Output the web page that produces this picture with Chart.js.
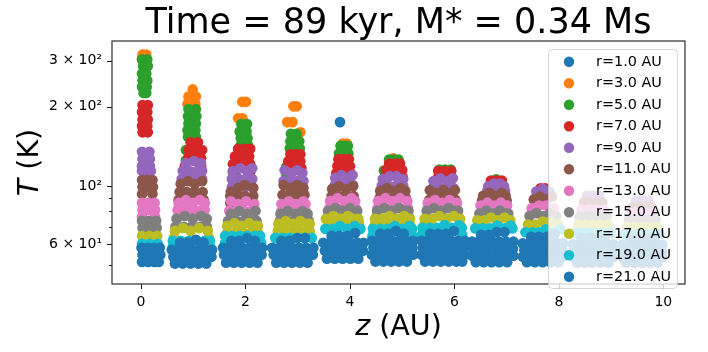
<!DOCTYPE html>
<html>
<head>
<meta charset="utf-8">
<script src="https://cdn.jsdelivr.net/npm/chart.js@4/dist/chart.umd.min.js"></script>
<style>
  html, body { margin: 0; padding: 0; background: #fff; }
  #wrap { width: 708px; height: 352px; }
</style>
</head>
<body>
<div id="wrap"><canvas id="c" width="708" height="352"></canvas></div>
<script>
// Radii (AU) of the sampled rings and their marker colours
const radii = [1, 3, 5, 7, 9, 11, 13, 15, 17, 19, 21];
const colors = ['#1f77b4', '#ff7f0e', '#2ca02c', '#d62728', '#9467bd', '#8c564b',
                '#e377c2', '#7f7f7f', '#bcbd22', '#17becf', '#1f77b4'];

// Axis ticks
const xTicks = [0, 2, 4, 6, 8, 10];
const yTicks = [50, 60, 70, 80, 90, 100, 200, 300];
const yTickText = { 300: '3 \u00d7 10\u00b2', 200: '2 \u00d7 10\u00b2', 100: '10\u00b2', 60: '6 \u00d7 10\u00b9' };

// Temperature samples per ring. Each row: [T (K), z (AU) of every sample at that T]
const tempR1 = [[175, 3.81]];

const tempR3 = [
  [316, 0.03, 0.10], [305, 0.02],
  [233, 0.99], [219, 0.91, 1.05], [205, 0.89, 1.04],
  [209, 1.94, 2.01], [181, 1.86, 1.94],
  [201, 2.92, 2.98], [175, 2.80, 2.90], [160, 3.05],
  [145, 3.86, 3.94],
  [127.5, 4.83]
];

const tempR5 = [
  [303, 0.02, 0.12], [286, 0.04, 0.13], [268, 0.02, 0.10], [252, 0.03, 0.12], [238, 0.02, 0.11], [226, 0.05, 0.10],
  [196, 0.91, 1.05], [184, 0.90, 1.06], [173, 0.91, 1.05], [163, 0.89, 1.04], [154, 0.90, 1.05], [137, 0.86], [125, 0.86],
  [172, 1.92, 2.03], [161, 1.89, 2.02], [152, 1.91, 2.04], [143, 1.91, 2.05], [120, 1.82], [112, 1.80],
  [158, 2.87, 2.98], [148, 2.86, 2.97, 3.03], [139, 2.85, 2.96, 3.04], [118, 2.78], [111, 2.78],
  [142, 3.82, 3.90, 3.96], [133, 3.79, 3.97],
  [126, 4.75, 4.84, 4.93], [114.5, 4.65],
  [115.5, 5.71, 5.82, 5.93],
  [106, 6.80]
];

const tempR7 = [
  [203, 0.03, 0.13], [191, 0.02, 0.12], [179, 0.03, 0.13], [169, 0.02, 0.12], [160, 0.03, 0.13],
  [146.6, 0.95, 1.09], [137, 0.91, 1.05, 1.17], [127.6, 0.90, 1.03, 1.15], [119, 0.84, 1.15],
  [138.5, 1.86, 1.99, 2.09], [129.6, 1.80, 1.94, 2.07], [121.2, 1.76, 1.92, 2.09], [113, 1.76, 2.09],
  [132, 2.86, 2.97, 3.05], [124.3, 2.82, 2.93, 3.05], [117, 2.80, 2.94, 3.07],
  [126.5, 3.78, 3.88, 3.98], [119, 3.76, 3.88, 4.00], [112, 3.74, 3.86, 3.97, 4.01],
  [121.7, 4.75, 4.87, 4.96], [115, 4.69, 4.81, 4.93, 5.00], [108.2, 4.67, 5.01],
  [114, 5.69, 5.81, 5.94], [107.2, 5.68, 5.80, 5.92, 5.96],
  [104.8, 6.70, 6.81, 6.91],
  [98, 7.65, 7.74]
];

const tempR9 = [
  [135, 0.02, 0.16], [127, 0.03, 0.17], [119, 0.02, 0.10, 0.17], [114, 0.02, 0.11, 0.19],
  [124.5, 1.01], [122.2, 0.86, 1.15], [114, 0.80, 0.93, 1.07, 1.17], [106.3, 0.78, 0.90, 1.02, 1.13, 1.17],
  [116.8, 1.90, 2.13], [114, 1.76, 2.03], [106.3, 1.74, 1.88, 2.01, 2.13], [99.1, 1.74, 1.87, 2.00, 2.13],
  [114.8, 2.75, 2.99], [112, 2.88, 3.09], [104.5, 2.73, 2.86, 2.99, 3.11],
  [110, 3.84, 4.05], [107.3, 3.72, 3.95], [100.9, 3.71, 3.83, 3.95, 4.06],
  [109, 4.76, 4.89], [106.3, 4.63, 5.02], [100.1, 4.61, 4.74, 4.88, 5.02],
  [107, 5.73, 5.97], [104.5, 5.60, 5.86], [98.3, 5.59, 5.72, 5.85, 5.98],
  [102.2, 6.76, 6.87], [99.8, 6.65, 6.95], [96, 6.63, 6.75, 6.87, 6.97],
  [97.6, 7.69], [95.3, 7.57, 7.81],
  [91.8, 8.54, 8.66, 8.77],
  [87.9, 9.48, 9.60, 9.71]
];

const tempR11 = [
  [105.4, 0.02, 0.12, 0.22], [99.1, 0.03, 0.13, 0.23], [93.2, 0.02, 0.22],
  [104.3, 0.90, 1.17], [101.8, 0.76, 1.03], [94.9, 0.74, 0.88, 1.03, 1.18], [88.5, 0.72, 0.84, 0.96, 1.08, 1.20],
  [100.8, 1.99], [98.3, 1.86, 2.15], [95, 1.72], [91.6, 1.71, 1.84, 1.99, 2.15], [86.2, 1.71, 2.15],
  [100.8, 2.73, 2.99], [98.3, 2.86, 3.11], [92.5, 2.71, 2.85, 2.99, 3.13],
  [99.8, 3.79, 4.06], [97.4, 3.66, 3.93], [91.6, 3.65, 3.79, 3.93, 4.07],
  [98.2, 4.71, 4.97], [95.8, 4.58, 4.84, 5.06], [90.1, 4.57, 4.70, 4.83, 4.96, 5.07],
  [96.4, 5.53, 5.79, 6.01], [94, 5.66, 5.92], [88.5, 5.52, 5.65, 5.78, 5.91, 6.02],
  [94.1, 6.67, 6.91], [91.8, 6.55, 6.79, 6.98], [88, 6.53, 6.66, 6.79, 6.92, 7.00],
  [91.1, 7.64, 7.87], [88.9, 7.52, 7.76],
  [86.6, 8.48, 8.60, 8.72, 8.83],
  [83.1, 9.42, 9.54, 9.66, 9.77]
];

const tempR13 = [
  [86.2, 0.02, 0.14, 0.26], [81.1, 0.03, 0.15, 0.27], [76.3, 0.02, 0.27],
  [88.4, 0.86, 1.13], [86.2, 0.72, 0.99, 1.22], [81.1, 0.70, 0.86, 1.01, 1.17, 1.22], [75.6, 0.70, 1.22],
  [87.5, 1.72, 2.01], [85.4, 1.86, 2.17], [80.4, 1.69, 1.82, 1.97, 2.11, 2.19],
  [87.5, 2.83, 3.11], [85.4, 2.69, 2.97, 3.15], [80.4, 2.69, 2.83, 2.97, 3.11, 3.15],
  [89.9, 3.76, 4.03], [87.7, 3.62, 3.90, 4.10], [82.5, 3.61, 3.75, 3.89, 4.03, 4.11],
  [89.9, 4.68, 4.96], [87.7, 4.54, 4.82, 5.10], [82.5, 4.53, 4.67, 4.81, 4.95, 5.11],
  [88.4, 5.63, 5.91], [86.2, 5.49, 5.77, 6.05], [81.1, 5.48, 6.06],
  [86.4, 6.63, 6.89], [84.3, 6.50, 6.76, 7.01],
  [84.3, 7.62, 7.76], [82.2, 7.48, 7.90],
  [81.4, 8.44, 8.58, 8.72, 8.86],
  [79.1, 9.38, 9.52, 9.66, 9.80]
];

const tempR15 = [
  [73.7, 0.02, 0.15, 0.29], [69.3, 0.03, 0.16, 0.30],
  [76.9, 0.84, 1.15], [75.0, 0.68, 0.99, 1.26], [69.9, 0.66, 0.82, 0.97, 1.13, 1.26],
  [80.3, 1.88, 2.19], [78.3, 1.72, 2.03], [73.7, 1.67, 1.82, 1.97, 2.11, 2.21],
  [80.3, 2.81, 3.09], [78.3, 2.67, 2.95, 3.19], [73.7, 2.66, 2.80, 2.94, 3.08, 3.21],
  [82.4, 3.72, 4.00], [80.4, 3.58, 3.86, 4.14],
  [82.4, 4.66, 4.94], [80.4, 4.52, 4.80, 5.07, 5.12], [76.3, 4.51, 5.13],
  [82.4, 5.61, 5.89], [80.4, 5.47, 5.75, 6.03, 6.07], [75.6, 5.46, 6.08],
  [80.6, 6.61, 6.87], [78.6, 6.48, 6.74, 7.00, 7.03],
  [78.8, 7.57, 7.83], [76.9, 7.44, 7.70, 7.95],
  [76.6, 8.40, 8.53, 8.66, 8.79, 8.91],
  [74.6, 9.34, 9.47, 9.60, 9.73, 9.85]
];

const tempR17 = [
  [64.6, 0.02, 0.16, 0.31],
  [69.2, 0.80, 1.11], [67.5, 0.65, 0.95, 1.28], [63.6, 0.63, 1.30],
  [72.3, 1.79, 2.07], [70.5, 1.65, 1.93, 2.20, 2.24], [66.4, 1.65, 1.80, 1.95, 2.10, 2.24],
  [73.6, 2.77, 3.05], [71.8, 2.63, 2.91, 3.19, 3.23], [67.5, 2.62, 2.76, 2.90, 3.04, 3.18, 3.23],
  [76.9, 3.68, 3.96], [75.0, 3.54, 3.82, 4.10, 4.16], [72.5, 3.60, 3.75, 3.90, 4.05, 4.17],
  [76.9, 4.76, 5.04], [75.0, 4.48, 4.62, 4.90, 5.15], [70.5, 4.47, 4.61, 4.75, 4.89, 5.03, 5.16],
  [76.9, 5.71, 5.99], [75.0, 5.43, 5.57, 5.85, 6.11], [70.5, 5.42, 6.12],
  [75.9, 6.70, 6.96], [74.0, 6.44, 6.57, 6.83, 7.07],
  [73.2, 7.69, 7.83], [71.4, 7.41, 7.55, 7.98],
  [71.1, 8.37, 8.51, 8.65, 8.79, 8.94],
  [69.9, 9.31, 9.45, 9.59, 9.73, 9.88]
];

const tempR19 = [
  [60.3, 0.02, 0.17, 0.32],
  [61.9, 0.61, 0.76, 0.92, 1.07, 1.22, 1.32], [58.9, 0.61, 1.32],
  [64.6, 1.61, 1.75, 1.89, 2.03, 2.17, 2.28], [60.8, 1.61, 2.30],
  [63.5, 2.57, 2.71, 2.85, 2.99, 3.13, 3.27],
  [70.4, 3.81, 4.09], [68.7, 3.53, 3.67, 3.95, 4.20],
  [70.4, 4.86, 5.14], [68.7, 4.44, 4.58, 4.72, 5.00, 5.19], [64.6, 4.43, 5.20],
  [71.0, 5.81, 6.09], [69.3, 5.39, 5.53, 5.67, 5.95, 6.14], [65.2, 5.38, 6.15],
  [70.7, 6.82, 7.08], [69.0, 6.40, 6.54, 6.68, 6.96, 7.11],
  [68.4, 7.75, 8.03], [66.7, 7.36, 7.49, 7.62, 7.88],
  [66.4, 8.32, 8.45, 8.58, 8.71, 8.84, 8.99],
  [65.5, 9.26, 9.39, 9.52, 9.65, 9.78, 9.93]
];

const tempR21 = [
  [58.2, 0.01, 0.13, 0.25, 0.36], [54.8, 0.03, 0.15, 0.27, 0.37], [51.4, 0.02, 0.14, 0.26, 0.34],
  [62.4, 1.05], [60.9, 0.75, 0.90, 1.20], [57.2, 0.59, 0.72, 0.85, 0.98, 1.11, 1.24, 1.36],
  [53.8, 0.62, 0.75, 0.88, 1.01, 1.14, 1.27, 1.35], [50.7, 0.65, 0.80, 0.95, 1.10, 1.25],
  [63.4, 2.03], [61.9, 1.73, 1.88, 2.18], [58.2, 1.57, 1.69, 1.82, 1.94, 2.07, 2.19, 2.32],
  [54.8, 1.59, 1.72, 1.85, 1.98, 2.11, 2.24, 2.31], [51.1, 1.63, 1.78, 1.93, 2.08, 2.23],
  [63.4, 2.99, 3.14], [61.9, 2.69, 2.84], [58.2, 2.51, 2.64, 2.77, 2.90, 3.03, 3.16, 3.30],
  [54.8, 2.54, 2.67, 2.80, 2.93, 3.06, 3.19, 3.29], [51.1, 2.59, 2.74, 2.89, 3.04, 3.19],
  [66.2, 4.10], [64.6, 3.65, 3.80, 3.95], [60.8, 3.49, 3.62, 3.75, 3.88, 4.01, 4.14, 4.26],
  [56.7, 3.52, 3.65, 3.78, 3.91, 4.04, 4.17, 4.25], [52.9, 3.56, 3.71, 3.86, 4.01, 4.16],
  [67.4, 4.88], [65.8, 4.58, 4.73, 5.03], [61.9, 4.42, 4.55, 4.68, 4.81, 4.94, 5.07, 5.21],
  [58.2, 4.45, 4.58, 4.71, 4.84, 4.97, 5.10, 5.20], [54.8, 4.42, 4.55, 4.68, 4.81, 4.94, 5.07, 5.21],
  [51.6, 4.49, 4.64, 4.79, 4.94, 5.09],
  [67.4, 5.99], [65.8, 5.54, 5.69, 5.84], [61.9, 5.37, 5.51, 5.65, 5.79, 5.93, 6.07, 6.20],
  [58.2, 5.40, 5.54, 5.68, 5.82, 5.96, 6.10, 6.19], [54.8, 5.37, 5.51, 5.65, 5.79, 5.93, 6.07, 6.20],
  [51.6, 5.44, 5.59, 5.74, 5.89, 6.04, 6.15],
  [66.8, 6.81, 6.96], [65.2, 6.51, 6.66], [61.4, 6.34, 6.47, 6.60, 6.73, 6.86, 6.99, 7.13],
  [57.7, 6.37, 6.50, 6.63, 6.76, 6.89, 7.02, 7.12], [54.3, 6.34, 6.47, 6.60, 6.73, 6.86, 6.99, 7.13],
  [51.3, 6.41, 6.56, 6.71, 6.86, 7.01],
  [65.7, 7.92], [64.1, 7.47, 7.62, 7.77], [60.5, 7.31, 7.44, 7.57, 7.70, 7.83, 7.96, 8.08],
  [57.0, 7.34, 7.47, 7.60, 7.73, 7.86, 7.99, 8.07], [53.8, 7.31, 7.44, 7.57, 7.70, 7.83, 7.96, 8.08],
  [51.3, 7.39, 7.54, 7.69, 7.84, 7.99],
  [63.5, 8.43, 8.58, 8.73, 8.88], [60.0, 8.27, 8.40, 8.53, 8.66, 8.79, 8.92, 9.04],
  [56.7, 8.30, 8.43, 8.56, 8.69, 8.82, 8.95, 9.03], [53.6, 8.27, 8.40, 8.53, 8.66, 8.79, 8.92, 9.04],
  [51.1, 8.35, 8.50, 8.65, 8.80, 8.95],
  [63.0, 9.37, 9.52, 9.67, 9.82], [59.8, 9.21, 9.34, 9.47, 9.60, 9.73, 9.86, 9.98],
  [56.4, 9.24, 9.37, 9.50, 9.63, 9.76, 9.89, 9.97], [53.6, 9.21, 9.34, 9.47, 9.60, 9.73, 9.86, 9.98],
  [51.1, 9.29, 9.44, 9.59, 9.74, 9.89]
];

const series = [tempR1, tempR3, tempR5, tempR7, tempR9, tempR11, tempR13, tempR15, tempR17, tempR19, tempR21];

const FONT = '"DejaVu Sans", "Liberation Sans", sans-serif';
const POINT_R = 5.35;

const datasets = series.map((rows, i) => ({
  label: 'r=' + radii[i].toFixed(1) + ' AU',
  data: rows.flatMap(([T, ...zs]) => zs.map(z => ({ x: z, y: T }))),
  backgroundColor: colors[i],
  borderColor: colors[i],
  pointRadius: POINT_R,
  pointHoverRadius: POINT_R,
  pointBorderWidth: 0,
  order: -i            // outer rings are drawn over inner ones
}));

function drawMixed(ctx, parts, cx, baseline) {
  let w = 0;
  parts.forEach(([t, f]) => { ctx.font = f; w += ctx.measureText(t).width; });
  let xx = cx - w / 2;
  ctx.textAlign = 'left';
  ctx.textBaseline = 'alphabetic';
  parts.forEach(([t, f]) => { ctx.font = f; ctx.fillText(t, xx, baseline); xx += ctx.measureText(t).width; });
}

const decor = {
  id: 'decor',
  afterDatasetsDraw(chart) {
    const { ctx, chartArea: a, scales: { x, y } } = chart;
    ctx.save();

    // axes frame
    ctx.strokeStyle = '#1a1a1a';
    ctx.lineWidth = 1.1;
    ctx.strokeRect(a.left, a.top, a.right - a.left, a.bottom - a.top);

    // tick marks
    ctx.beginPath();
    xTicks.forEach(v => {
      const px = Math.round(x.getPixelForValue(v)) + 0.5;
      ctx.moveTo(px, a.bottom); ctx.lineTo(px, a.bottom + 5);
    });
    yTicks.forEach(v => {
      const py = Math.round(y.getPixelForValue(v)) + 0.5;
      const len = yTickText[v] ? 5 : 3;
      ctx.moveTo(a.left - len, py); ctx.lineTo(a.left, py);
    });
    ctx.lineWidth = 1;
    ctx.stroke();

    // title
    ctx.fillStyle = '#000';
    ctx.font = '35px ' + FONT;
    ctx.textAlign = 'center';
    ctx.textBaseline = 'alphabetic';
    ctx.fillText('Time = 89 kyr, M* = 0.34 Ms', (a.left + a.right) / 2, 33);

    // axis titles
    drawMixed(ctx, [['z', 'italic 28.5px ' + FONT], [' (AU)', '28.5px ' + FONT]], (a.left + a.right) / 2, 335);
    ctx.save();
    ctx.translate(38, (a.top + a.bottom) / 2);
    ctx.rotate(-Math.PI / 2);
    drawMixed(ctx, [['T', 'italic 28.5px ' + FONT], [' (K)', '28.5px ' + FONT]], 0, 0);
    ctx.restore();

    // legend
    const lx = 548.5, ly = 49.5, lw = 129, lh = 239;
    ctx.beginPath();
    ctx.roundRect(lx, ly, lw, lh, 4);
    ctx.fillStyle = 'rgba(255,255,255,0.8)';
    ctx.fill();
    ctx.strokeStyle = 'rgba(204,204,204,0.8)';
    ctx.lineWidth = 1;
    ctx.stroke();
    ctx.font = '14.4px ' + FONT;
    ctx.textAlign = 'left';
    ctx.textBaseline = 'middle';
    chart.data.datasets.forEach((ds, i) => {
      const cy = 61.7 + i * 21.5;
      ctx.beginPath();
      ctx.arc(569, cy, 5.2, 0, Math.PI * 2);
      ctx.fillStyle = ds.backgroundColor;
      ctx.fill();
      ctx.fillStyle = '#000';
      ctx.fillText(ds.label, 596, cy + 0.5);
    });

    ctx.restore();
  }
};

new Chart(document.getElementById('c'), {
  type: 'scatter',
  data: { datasets },
  options: {
    responsive: false,
    animation: false,
    devicePixelRatio: 1,
    events: [],
    layout: { padding: { top: 41, right: 23, left: 0, bottom: 0 } },
    plugins: { legend: { display: false }, tooltip: { enabled: false }, title: { display: false } },
    scales: {
      x: {
        type: 'linear', min: -0.555, max: 10.415,
        grid: { display: false, drawTicks: false },
        border: { display: false },
        afterBuildTicks: s => { s.ticks = xTicks.map(v => ({ value: v })); },
        afterFit: s => { s.height = 68; },
        ticks: { font: { family: FONT, size: 14 }, color: '#000', padding: 10, maxRotation: 0, autoSkip: false,
                 callback: v => String(v) }
      },
      y: {
        type: 'logarithmic', min: 42.4, max: 356,
        grid: { display: false, drawTicks: false },
        border: { display: false },
        afterBuildTicks: s => { s.ticks = yTicks.map(v => ({ value: v })); },
        afterFit: s => { s.width = 112; },
        ticks: { font: { family: FONT, size: 14 }, color: '#000', padding: 10, autoSkip: false,
                 callback: v => yTickText[v] || '' }
      }
    }
  },
  plugins: [decor]
});
</script>
</body>
</html>
